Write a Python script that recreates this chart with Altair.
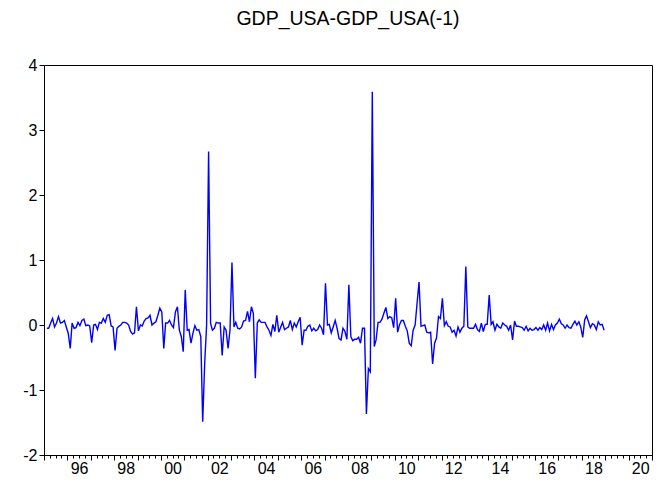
import altair as alt
import pandas as pd

title_text = "GDP_USA-GDP_USA(-1)"

# Monthly first differences, 1995M02 .. 2018M12
values = [
    -0.05, -0.05, 0.03, 0.10, -0.03, 0.03, 0.13, 0.03, 0.04, 0.07,
    -0.03, -0.13, -0.36, 0.03, -0.05, -0.04, 0.04, -0.01, 0.07, 0.09,
    -0.01, 0.00, -0.015, -0.27, 0.00, 0.01, -0.07, 0.04, 0.03, 0.10,
    0.04, 0.15, 0.16, -0.015, -0.03, -0.39, -0.05, -0.02, 0.00, 0.04,
    0.04, 0.03, 0.00, -0.10, -0.14, -0.12, 0.28, -0.09, 0.00, -0.015,
    0.06, 0.10, 0.11, 0.15, 0.00, 0.03, 0.05, 0.15, 0.26, 0.20,
    -0.36, 0.03, 0.03, 0.07, 0.00, -0.04, 0.20, 0.28, -0.08, -0.18,
    -0.41, 0.54, -0.08, -0.07, -0.28, -0.13, -0.01, -0.08, -0.07, -0.18,
    -1.49, -0.59, 0.00, 2.67, 0.03, -0.08, -0.05, 0.04, 0.03, 0.03,
    -0.47, -0.03, -0.08, -0.36, -0.08, 0.96, -0.03, 0.04, -0.05, -0.06,
    -0.03, 0.06, 0.07, 0.21, 0.05, 0.28, 0.18, -0.82, 0.03, 0.08,
    0.04, 0.04, 0.04, -0.03, -0.08, -0.16, 0.01, -0.10, 0.15, -0.11,
    -0.03, 0.04, -0.07, -0.05, -0.03, 0.07, -0.07, 0.03, -0.03, 0.05,
    0.12, -0.31, -0.08, -0.08, -0.02, 0.00, -0.09, -0.05, -0.09, -0.07,
    0.00, -0.05, -0.15, 0.64, 0.00, 0.01, -0.12, -0.03, 0.07, -0.05,
    -0.21, -0.23, -0.05, -0.10, -0.22, 0.62, -0.18, -0.24, -0.22, -0.22,
    -0.19, -0.28, -0.05, -0.05, -1.37, -0.67, -0.72, 3.59, -0.33, -0.23,
    0.04, 0.04, 0.09, 0.18, 0.27, 0.10, 0.13, 0.11, -0.04, 0.41,
    -0.11, 0.00, 0.07, 0.07, -0.02, -0.09, -0.28, -0.32, -0.08, 0.00,
    0.33, 0.66, -0.02, -0.01, 0.00, -0.11, -0.12, -0.11, -0.60, -0.28,
    -0.20, 0.13, 0.10, 0.41, -0.01, 0.05, -0.02, -0.03, -0.11, -0.08,
    -0.17, -0.03, -0.11, -0.05, -0.02, 0.90, -0.03, -0.05, -0.05, -0.05,
    0.01, -0.07, -0.10, 0.03, -0.10, 0.01, 0.01, 0.46, 0.01, 0.05,
    -0.08, 0.01, -0.03, -0.05, 0.03, 0.00, -0.02, -0.08, 0.00, -0.23,
    0.06, -0.02, -0.02, -0.03, -0.04, -0.08, -0.02, -0.09, -0.05, -0.08,
    -0.07, -0.04, -0.08, -0.04, -0.07, 0.00, -0.08, 0.03, -0.09, 0.01,
    -0.07, 0.00, 0.03, 0.09, 0.02, 0.00, -0.05, 0.00, -0.04, -0.05,
    0.01, 0.06, 0.00, 0.05, -0.03, -0.19, 0.08, 0.14, 0.05, -0.04,
    0.02, 0.00, -0.07, 0.05, 0.00, 0.01, -0.08,
]

dates = pd.date_range("1995-02-01", periods=len(values), freq="MS") + pd.Timedelta(days=14)
df = pd.DataFrame({"date": dates, "value": values})

label_years = list(range(1996, 2021, 2))
year_ticks = list(range(1995, 2022))
y_ticks = [-2, -1, 0, 1, 2, 3, 4]

FONT = "Liberation Sans"

x_scale = alt.Scale(domain=[alt.DateTime(year=1995, month=1, date=1),
                            alt.DateTime(year=2021, month=1, date=1)])


def base_x(axis):
    return alt.X("date:T", scale=x_scale, axis=axis, title=None)


def y_enc():
    return alt.Y("value:Q", scale=alt.Scale(domain=[-2, 4], nice=False, zero=False),
                 axis=alt.Axis(values=y_ticks, grid=False, tickSize=5, tickColor="black",
                               domainColor="black", labelFont=FONT, labelFontSize=16,
                               labelColor="black", labelPadding=2,
                               labelExpr="toString(datum.value)"),
                 title=None)


line = alt.Chart(df).mark_line(color="#0000ff", strokeWidth=1.4).encode(
    x=base_x(alt.Axis(
        orient="bottom",
        values=[alt.DateTime(year=y, month=7, date=1) for y in label_years],
        labelExpr="timeFormat(datum.value, '%y')",
        ticks=False, domain=True, domainColor="black", grid=False,
        labelFont=FONT, labelFontSize=16, labelColor="black", labelPadding=5,
    )),
    y=y_enc(),
)

major = alt.Chart(df).mark_line(opacity=0).encode(
    x=base_x(alt.Axis(
        orient="bottom",
        values=[alt.DateTime(year=y, month=1, date=1) for y in year_ticks],
        labels=False, tickSize=5, tickColor="black", domain=False, grid=False,
    )),
    y=y_enc(),
)

minor = alt.Chart(df).mark_line(opacity=0).encode(
    x=base_x(alt.Axis(
        orient="bottom",
        values=[alt.DateTime(year=y, month=m, date=1) for y in range(1995, 2021) for m in (4, 7, 10)],
        labels=False, tickSize=3, tickColor="black", domain=False, grid=False,
    )),
    y=y_enc(),
)

chart = alt.layer(line, major, minor).resolve_axis(x="independent").properties(
    width=608, height=390,
    background="white",
    autosize=alt.AutoSizeParams(type="none"),
    padding={"left": 36, "top": 57, "right": 1, "bottom": 24},
    title=alt.TitleParams(title_text, font=FONT, fontSize=19.5, fontWeight="normal",
                          color="black", anchor="middle", offset=28, frame="group"),
).configure_view(stroke="black", strokeWidth=1)

chart.save("out.html", embed_options={"renderer": "svg", "actions": False})
